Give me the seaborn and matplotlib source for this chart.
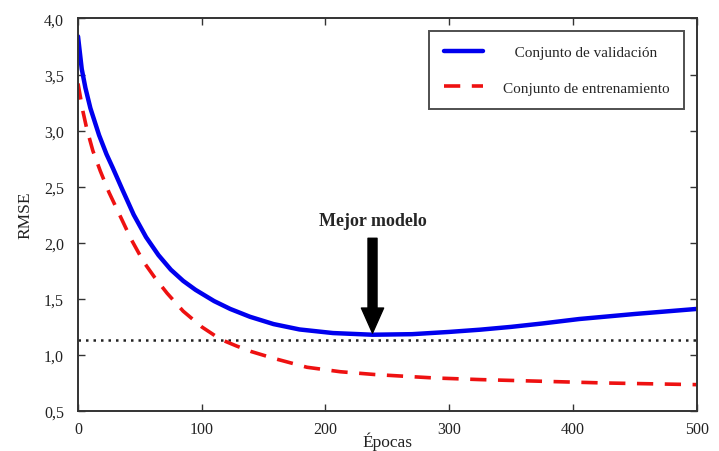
import matplotlib
matplotlib.use("Agg")
import matplotlib.pyplot as plt
import seaborn as sns
import pandas as pd

# Data
epochs_val = [0, 3, 6, 10, 17, 23, 28, 36, 45, 55, 65, 75, 85, 95, 110, 123, 139, 158,
              179, 206, 238, 270, 300, 325, 350, 375, 405, 450, 500]
rmse_val = [3.84, 3.55, 3.38, 3.20, 2.96, 2.79, 2.67, 2.47, 2.25, 2.05, 1.89, 1.76, 1.66,
            1.58, 1.48, 1.41, 1.34, 1.275, 1.227, 1.195, 1.18, 1.185, 1.205, 1.225, 1.25,
            1.28, 1.32, 1.365, 1.41]

epochs_train = [0, 4, 7, 12, 18, 25, 34, 43, 53, 62, 72, 85, 100, 115, 128, 140, 158, 185,
                212, 240, 287, 325, 375, 425, 500]
rmse_train = [3.42, 3.17, 3.02, 2.82, 2.64, 2.45, 2.24, 2.03, 1.83, 1.69, 1.55, 1.39, 1.25,
              1.14, 1.08, 1.03, 0.97, 0.89, 0.85, 0.825, 0.795, 0.78, 0.765, 0.75, 0.735]

best_epoch = 238
best_level = 1.136

label_val = "Conjunto de validación"
label_train = "Conjunto de entrenamiento"
xticks = [0, 100, 200, 300, 400, 500]
yticks = [0.5, 1.0, 1.5, 2.0, 2.5, 3.0, 3.5, 4.0]

sns.set_style("ticks")
plt.rcParams['font.family'] = ['Liberation Serif', 'DejaVu Serif']

df_val = pd.DataFrame({"Épocas": epochs_val, "RMSE": rmse_val})
df_train = pd.DataFrame({"Épocas": epochs_train, "RMSE": rmse_train})

fig = plt.figure(figsize=(7.19, 4.52), dpi=100)
ax = fig.add_axes([0.1085, 0.0885, 0.8605, 0.8685])

sns.lineplot(data=df_val, x="Épocas", y="RMSE", ax=ax, color="#0000ee", lw=3.2,
             label="   " + label_val)
sns.lineplot(data=df_train, x="Épocas", y="RMSE", ax=ax, color="#ee1111", lw=2.6,
             label=label_train)
ax.lines[0].set_solid_joinstyle("round")
ax.lines[-1].set_linestyle((0, (4.5, 3.2)))

ax.axhline(best_level, color="#222222", lw=1.8, ls=(0, (1, 2)), zorder=1)

ax.text(best_epoch, 2.2, "Mejor modelo", ha="center", va="center",
        fontsize=13, fontweight="bold")
ax.annotate("", xy=(best_epoch, 1.195), xytext=(best_epoch, 2.04),
            arrowprops=dict(facecolor="black", edgecolor="black", width=6.5,
                            headwidth=16, headlength=18, shrink=0))

ax.set_xlim(0, 500)
ax.set_ylim(0.5, 4.0)
ax.set_xticks(xticks)
ax.set_yticks(yticks)
ax.set_yticklabels([f"{v:.1f}".replace(".", ",") for v in yticks])
ax.set_xticklabels([str(v) for v in xticks])
ax.tick_params(direction="in", length=5, width=1, top=True, right=True,
               labelsize=11.5, colors="#333333", labelcolor="#222222")
ax.tick_params(axis="x", pad=7)
ax.tick_params(axis="y", pad=10)
for s in ax.spines.values():
    s.set_color("#333333")
    s.set_linewidth(1.4)

ax.set_xlabel("Épocas", fontsize=12.5, labelpad=-4, color="#222222")
ax.set_ylabel("RMSE", fontsize=12.5, labelpad=8, color="#222222")

leg = ax.legend(loc="upper right", frameon=True, fancybox=False, fontsize=11,
                handlelength=2.6, handletextpad=1.3, labelspacing=1.45,
                borderpad=0.95, borderaxespad=0.8, edgecolor="#222222")
leg.get_frame().set_linewidth(1.4)
leg_lines = leg.get_lines()
leg_lines[0].set_linewidth(3.2)
leg_lines[1].set_linewidth(2.6)
leg_lines[1].set_linestyle((0, (4.5, 3.2)))

fig.savefig("out.png", dpi=100)
